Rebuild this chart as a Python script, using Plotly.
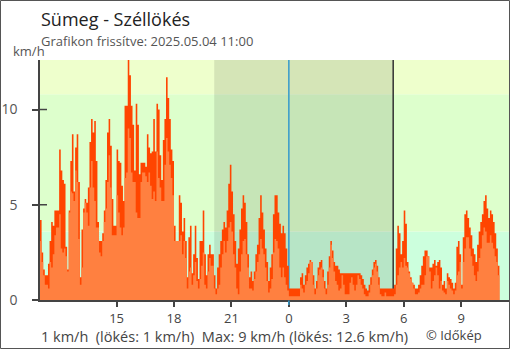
import pandas as pd
import plotly.graph_objects as go

# 5-minute wind readings, Sümeg, 2025-05-03 11:00 -> 2025-05-04 11:00 (km/h)
gust = [
    4.2, 2.5, 1.6, 1.3, 1.3, 1.9, 3.1, 4.1, 3.9, 4.7, 4.7, 4.7,        # 11h
    7.9, 6.8, 6.3, 6.1, 2.8, 1.6, 4.7, 7.3, 8.7, 5.7, 8.0, 8.7,        # 12h
    6.2, 1.2, 3.7, 4.8, 5.3, 5.1, 5.9, 8.3, 9.5, 8.8, 9.4, 7.3,        # 13h
    4.1, 3.1, 3.1, 3.5, 4.7, 6.3, 8.8, 9.5, 8.1, 5.3, 3.9, 3.9,        # 14h
    7.9, 7.3, 7.2, 6.0, 5.2, 10.2, 10.2, 12.6, 11.8, 10.2, 9.2, 6.8,   # 15h
    10.3, 9.2, 6.6, 7.2, 7.2, 7.2, 7.0, 8.7, 8.0, 7.7, 7.8, 9.5,       # 16h
    7.8, 10.3, 10.0, 7.6, 6.3, 8.4, 9.5, 11.7, 10.6, 9.5, 7.9, 7.3,    # 17h
    3.9, 3.1, 3.1, 5.5, 5.1, 3.6, 4.3, 3.1, 1.2, 3.3, 3.9, 1.4,        # 18h
    2.4, 3.9, 2.2, 1.1, 3.1, 3.1, 4.7, 2.4, 1.3, 2.4, 2.9, 2.4,        # 19h
    2.4, 1.3, 0.6, 1.7, 2.4, 3.1, 3.7, 4.1, 3.8, 4.7, 6.1, 7.1,        # 20h
    5.7, 4.5, 3.1, 1.9, 2.7, 3.7, 4.8, 5.5, 5.1, 4.1, 2.4, 1.2,        # 21h
    1.5, 1.0, 1.5, 2.4, 2.9, 4.3, 5.5, 4.6, 3.7, 2.7, 2.0, 1.0,        # 22h
    1.7, 2.4, 4.5, 5.5, 5.5, 4.6, 4.0, 3.5, 3.9, 3.5, 2.7, 1.8,        # 23h
    0.6, 0.6, 0.6, 0.6, 0.6, 0.6, 0.6, 1.2, 1.4, 0.8, 1.3, 1.7,        # 0h
    1.9, 2.1, 2.0, 1.3, 0.6, 1.0, 1.7, 2.0, 2.1, 1.6, 1.0, 0.6,        # 1h
    1.5, 2.3, 3.1, 2.6, 2.0, 1.8, 1.8, 1.6, 1.4, 1.4, 1.4, 1.4,        # 2h
    1.4, 1.4, 1.4, 1.4, 1.4, 1.4, 1.4, 1.4, 1.4, 1.3, 1.1, 0.8,        # 3h
    0.6, 0.5, 0.8, 1.2, 1.6, 2.0, 2.1, 1.8, 1.2, 0.6, 0.6, 0.6,        # 4h
    0.6, 0.6, 0.6, 0.6, 0.6, 0.6, 0.8, 2.7, 3.9, 3.5, 2.4, 3.1,        # 5h
    4.7, 4.0, 2.0, 1.5, 1.2, 0.9, 0.8, 0.6, 0.6, 0.8, 1.3, 1.8,        # 6h
    2.3, 2.6, 2.6, 2.3, 1.7, 1.7, 1.9, 2.1, 1.8, 2.0, 2.1, 1.7,        # 7h
    0.8, 1.0, 0.6, 1.4, 1.2, 1.1, 0.9, 0.6, 0.9, 2.8, 3.1, 2.4,        # 8h
    0.8, 3.3, 4.5, 4.7, 4.3, 3.8, 3.4, 2.7, 2.4, 2.0, 2.9, 3.6,        # 9h
    4.1, 4.5, 5.2, 5.5, 4.8, 4.3, 4.7, 4.5, 4.1, 3.5, 2.7, 1.8,        # 10h
    1.0,                                                               # 11:00
]

avg = [
    3.1, 2.0, 1.3, 0.8, 0.8, 0.6, 2.0, 1.7, 2.4, 3.4, 3.8, 3.8,        # 11h
    4.5, 2.7, 2.5, 2.7, 2.3, 1.5, 4.6, 5.7, 5.6, 5.2, 6.8, 6.2,        # 12h
    3.2, 0.8, 1.7, 4.6, 5.1, 4.6, 3.9, 5.9, 7.3, 5.9, 5.2, 3.8,        # 13h
    3.8, 2.5, 2.3, 3.1, 4.1, 4.8, 6.2, 7.6, 5.9, 3.4, 3.4, 3.4,        # 14h
    5.5, 4.6, 3.8, 3.4, 3.8, 6.4, 6.7, 9.0, 8.5, 6.7, 6.2, 6.2,        # 15h
    4.6, 4.3, 4.3, 6.2, 6.7, 6.7, 6.5, 6.2, 6.7, 6.0, 5.3, 5.7,        # 16h
    5.2, 7.8, 6.4, 5.9, 5.2, 5.2, 7.1, 8.5, 7.8, 7.1, 6.4, 5.5,        # 17h
    3.1, 3.1, 3.1, 3.1, 3.4, 2.4, 3.1, 2.2, 0.6, 1.5, 1.7, 0.8,        # 18h
    1.3, 2.0, 1.0, 0.6, 1.1, 1.8, 2.5, 0.8, 0.6, 1.5, 2.2, 1.8,        # 19h
    1.8, 0.6, 0.3, 0.6, 0.8, 1.7, 2.4, 3.1, 2.5, 3.1, 3.8, 4.1,        # 20h
    3.6, 2.4, 1.7, 0.6, 0.3, 1.5, 2.4, 3.1, 3.2, 2.4, 1.7, 0.6,        # 21h
    0.6, 0.5, 1.1, 1.5, 2.0, 2.4, 3.2, 2.7, 2.4, 1.7, 1.0, 0.4,        # 22h
    0.6, 1.1, 2.5, 3.2, 3.1, 2.7, 1.7, 1.2, 1.7, 1.2, 0.8, 0.5,        # 23h
    0.2, 0.2, 0.2, 0.2, 0.2, 0.2, 0.2, 0.8, 0.6, 0.4, 0.8, 1.0,        # 0h
    1.4, 2.0, 2.0, 0.8, 0.3, 0.6, 1.3, 1.6, 1.7, 1.2, 0.6, 0.3,        # 1h
    0.8, 1.7, 2.9, 2.2, 1.5, 1.0, 0.8, 0.5, 0.6, 1.3, 0.8, 0.3,        # 2h
    0.3, 0.3, 0.9, 1.2, 0.8, 0.5, 0.8, 1.3, 1.1, 0.8, 0.6, 0.3,        # 3h
    0.2, 0.2, 0.4, 0.8, 1.3, 1.7, 1.9, 1.5, 0.8, 0.3, 0.2, 0.2,        # 4h
    0.4, 0.2, 0.2, 0.2, 0.2, 0.2, 0.3, 0.8, 1.3, 1.7, 2.0, 1.7,        # 5h
    2.2, 1.8, 1.7, 1.4, 1.1, 0.9, 0.6, 0.3, 0.3, 0.4, 0.6, 0.8,        # 6h
    0.8, 1.3, 2.3, 2.3, 1.5, 0.6, 1.0, 1.3, 1.7, 1.3, 0.6, 1.0,        # 7h
    0.5, 0.4, 0.3, 1.0, 0.8, 0.6, 0.5, 0.3, 0.5, 1.3, 1.5, 2.0,        # 8h
    0.6, 2.0, 2.7, 3.3, 3.3, 2.7, 2.3, 1.8, 1.3, 1.0, 1.5, 2.2,        # 9h
    2.7, 3.4, 3.8, 3.6, 3.0, 3.0, 3.4, 3.0, 2.7, 2.3, 2.0, 1.3,        # 10h
    1.0,                                                               # 11:00
]

start = "2025-05-03 11:00"
times = pd.date_range(start, periods=len(gust), freq="5min")

tick_times = ["2025-05-03 15:00", "2025-05-03 18:00", "2025-05-03 21:00",
              "2025-05-04 00:00", "2025-05-04 03:00", "2025-05-04 06:00",
              "2025-05-04 09:00"]
tick_labels = ["15", "18", "21", "0", "3", "6", "9"]

# wind bands (1 m/s and 3 m/s thresholds)
band_edges = [0, 3.6, 10.8, 12.6]
band_colors = ["#ccffdd", "#ddffcc", "#eeffcc"]

sunset = "2025-05-03 20:06"
midnight = "2025-05-04 00:00"
sunrise = "2025-05-04 05:27"

x_range = ["2025-05-03 11:00", "2025-05-04 11:30"]
y_max = 12.6

W, H = 510, 350
ML, MR, MT, MB = 40, 1, 60, 50
PW, PH = W - ML - MR, H - MT - MB


def px(x):
    return (x - ML) / PW


def py(y):
    return (H - MB - y) / PH


FONT = "Open Sans"

fig = go.Figure()
fig.add_trace(go.Scatter(
    x=times, y=gust, mode="lines", line=dict(width=0, shape="hv", color="#ff4500"),
    fill="tozeroy", fillcolor="#ff4500", hoverinfo="skip", showlegend=False))
fig.add_trace(go.Scatter(
    x=times, y=avg, mode="lines", line=dict(width=0, shape="hv", color="#ff8040"),
    fill="tozeroy", fillcolor="#ff8040", hoverinfo="skip", showlegend=False))

shapes = []
for lo, hi, col in zip(band_edges[:-1], band_edges[1:], band_colors):
    shapes.append(dict(type="rect", xref="paper", yref="y", x0=0, x1=1, y0=lo, y1=hi,
                       fillcolor=col, line=dict(width=0), layer="below"))
shapes.append(dict(type="rect", xref="x", yref="paper", x0=sunset, x1=sunrise, y0=0, y1=1,
                   fillcolor="rgba(0,0,0,0.1)", line=dict(width=0), layer="below"))
shapes.append(dict(type="line", xref="x", yref="paper", x0=midnight, x1=midnight, y0=0, y1=1,
                   line=dict(color="#3399cc", width=1.5), layer="below"))
shapes.append(dict(type="line", xref="x", yref="paper", x0=sunrise, x1=sunrise, y0=0, y1=1,
                   line=dict(color="#333333", width=1.5), layer="below"))
# blue tick under the midnight line
shapes.append(dict(type="line", xref="x", yref="paper", x0=midnight, x1=midnight,
                   y0=py(305), y1=py(300.5), line=dict(color="#3399cc", width=1.5), layer="above"))
# inner half of the y ticks
for v in [5, 10]:
    shapes.append(dict(type="line", xref="paper", yref="y", x0=0, x1=px(47), y0=v, y1=v,
                       line=dict(color="#444444", width=1.5), layer="above"))
# outer frame
shapes.append(dict(type="rect", xref="paper", yref="paper", x0=px(0.5), x1=px(509.5),
                   y0=py(348.5), y1=py(0.5), line=dict(color="#555555", width=1),
                   fillcolor="rgba(0,0,0,0)", layer="above"))

status = "{:g} km/h\u00a0 (lökés: {:g} km/h)\u00a0 Max: {:g} km/h (lökés: {:g} km/h)".format(
    avg[-1], gust[-1], max(avg), max(gust))

annotations = [
    dict(text="Sümeg - Széllökés", x=px(39), y=py(19), xanchor="left", yanchor="middle",
         font=dict(family=FONT, size=18, color="#222222")),
    dict(text="Grafikon frissítve: 2025.05.04 11:00", x=px(39), y=py(41), xanchor="left",
         yanchor="middle", font=dict(family=FONT, size=13, color="#555555")),
    dict(text="km/h", x=px(11), y=py(51), xanchor="left", yanchor="middle",
         font=dict(family=FONT, size=13, color="#555555")),
    dict(text=status, x=px(39), y=py(336), xanchor="left", yanchor="middle",
         font=dict(family=FONT, size=14.5, color="#444444")),
    dict(text="© Időkép", x=px(424), y=py(334.5), xanchor="left", yanchor="middle",
         font=dict(family=FONT, size=13, color="#444444")),
]
for a in annotations:
    a.update(xref="paper", yref="paper", showarrow=False)

fig.update_layout(
    width=W, height=H,
    margin=dict(l=ML, r=MR, t=MT, b=MB, pad=0),
    paper_bgcolor="white", plot_bgcolor="white",
    shapes=shapes, annotations=annotations,
    showlegend=False, hovermode=False,
    font=dict(family=FONT, color="#444444"),
    xaxis=dict(type="date", range=x_range, tickvals=pd.to_datetime(tick_times),
               ticktext=tick_labels, ticks="outside", ticklen=5, tickwidth=1.5,
               tickcolor="#444444", showline=True, linecolor="#444444", linewidth=1.5,
               showgrid=False, zeroline=False, fixedrange=True, ticklabelstandoff=1,
               tickfont=dict(family=FONT, size=13, color="#444444")),
    yaxis=dict(range=[0, y_max], tickvals=[0, 5, 10], ticks="outside", ticklen=6,
               tickwidth=1.5, tickcolor="#444444", showline=True, linecolor="#444444",
               linewidth=1.5, showgrid=False, zeroline=False, fixedrange=True,
               ticklabelstandoff=12,
               tickfont=dict(family=FONT, size=14, color="#555555")),
)

fig.write_html("out.html")
